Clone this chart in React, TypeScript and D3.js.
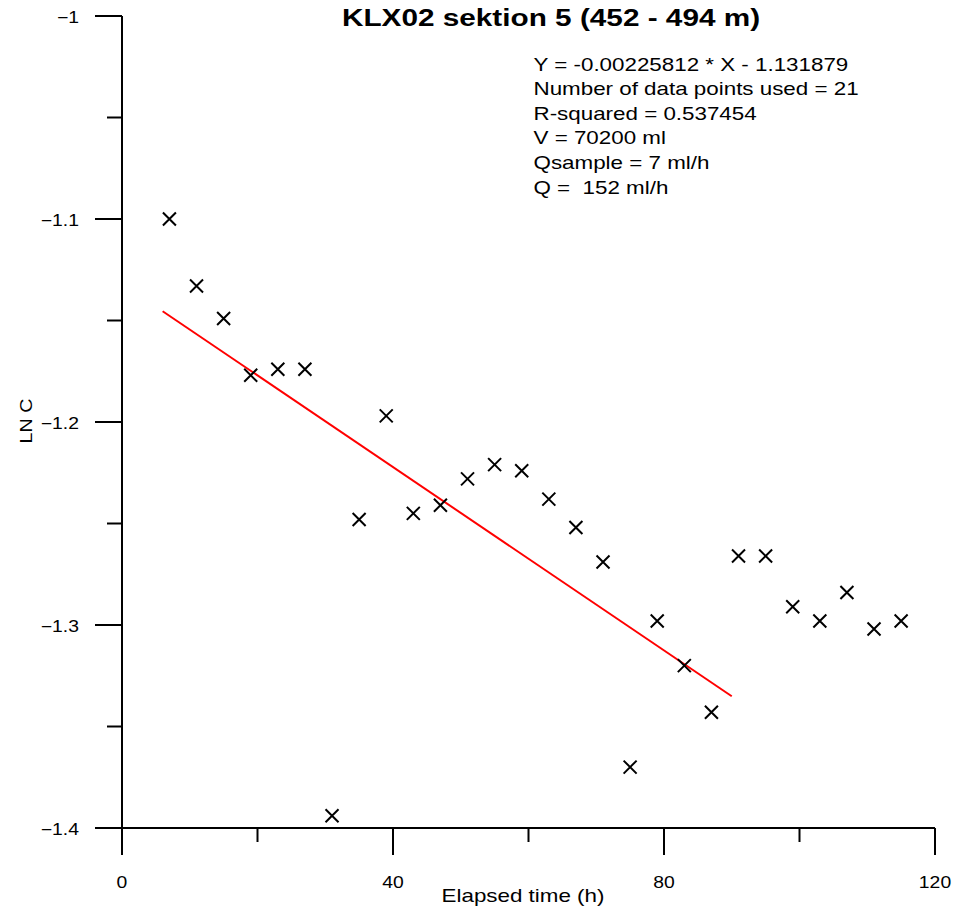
import React from "react";
import * as d3 from "d3";

const elapsedHours = [7, 11, 15, 19, 23, 27, 31, 35, 39, 43, 47, 51, 55, 59, 63, 67, 71, 75, 79, 83, 87, 91, 95, 99, 103, 107, 111, 115];
const lnC = [-1.1, -1.133, -1.149, -1.177, -1.174, -1.174, -1.394, -1.248, -1.197, -1.245, -1.241, -1.228, -1.221, -1.224, -1.238, -1.252, -1.269, -1.37, -1.298, -1.32, -1.343, -1.266, -1.266, -1.291, -1.298, -1.284, -1.302, -1.298];

const fitSlope = -0.00225812;
const fitIntercept = -1.131879;
const fitRange = [6, 90];

const xMajorTicks = [0, 40, 80, 120];
const xMinorTicks = [20, 60, 100];
const yMajorTicks = [-1, -1.1, -1.2, -1.3, -1.4];
const yMinorTicks = [-1.05, -1.15, -1.25, -1.35];

const infoLines = [
  "Y = -0.00225812 * X - 1.131879",
  "Number of data points used = 21",
  "R-squared = 0.537454",
  "V = 70200 ml",
  "Qsample = 7 ml/h",
  "Q =  152 ml/h",
];

const W = 957;
const H = 922;
const FONT = "Liberation Sans, Arial, sans-serif";

// Text drawn with a wide set width (glyphs stretched along the reading direction).
function WideText(props: {
  x: number;
  y: number;
  size: number;
  stretch?: number;
  anchor?: "start" | "middle" | "end";
  rotate?: number;
  bold?: boolean;
  children: React.ReactNode;
}) {
  const { x, y, size, stretch = 1.21, anchor = "start", rotate = 0, bold, children } = props;
  return (
    <g transform={`translate(${x},${y}) rotate(${rotate}) scale(${stretch},1)`}>
      <text
        x={0}
        y={0}
        fontSize={size}
        textAnchor={anchor}
        fontWeight={bold ? "bold" : "normal"}
        style={{ whiteSpace: "pre" }}
      >
        {children}
      </text>
    </g>
  );
}

export default function App() {
  const x = d3.scaleLinear().domain([0, 120]).range([122, 935]);
  const y = d3.scaleLinear().domain([-1, -1.4]).range([16, 828]);

  const fitLine = d3
    .line<number>()
    .x((d) => x(d))
    .y((d) => y(fitSlope * d + fitIntercept))(fitRange);

  const arm = 6.5;

  return (
    <svg
      width={W}
      height={H}
      style={{ position: "absolute", left: 0, top: 0, background: "#fff" }}
      fontFamily={FONT}
    >
      <rect width={W} height={H} fill="#fff" />
      {/* axes */}
      <line x1={x(0)} x2={x(0)} y1={y(-1)} y2={y(-1.4)} stroke="#000" strokeWidth={2} />
      <line x1={x(0)} x2={x(120)} y1={y(-1.4)} y2={y(-1.4)} stroke="#000" strokeWidth={2} />
      {xMajorTicks.map((t) => (
        <g key={"xm" + t}>
          <line x1={x(t)} x2={x(t)} y1={y(-1.4)} y2={y(-1.4) + 27} stroke="#000" strokeWidth={2} />
          <WideText x={x(t)} y={888} size={16} anchor="middle">
            {t}
          </WideText>
        </g>
      ))}
      {xMinorTicks.map((t) => (
        <line key={"xn" + t} x1={x(t)} x2={x(t)} y1={y(-1.4)} y2={y(-1.4) + 14} stroke="#000" strokeWidth={2} />
      ))}
      {yMajorTicks.map((t) => (
        <g key={"ym" + t}>
          <line x1={x(0) - 27} x2={x(0)} y1={y(t)} y2={y(t)} stroke="#000" strokeWidth={2} />
          <WideText x={79} y={y(t) + 6.5} size={16} anchor="end">
            {d3.format("")(t)}
          </WideText>
        </g>
      ))}
      {yMinorTicks.map((t) => (
        <line key={"yn" + t} x1={x(0) - 15} x2={x(0)} y1={y(t)} y2={y(t)} stroke="#000" strokeWidth={2} />
      ))}
      <WideText x={523} y={902} size={18.5} anchor="middle">
        Elapsed time (h)
      </WideText>
      <WideText x={32} y={421} size={16.3} anchor="middle" rotate={-90}>
        LN C
      </WideText>

      {/* regression line */}
      <path d={fitLine ?? ""} fill="none" stroke="#ff0000" strokeWidth={2} />

      {/* observations */}
      {elapsedHours.map((h, i) => {
        const cx = x(h);
        const cy = y(lnC[i]);
        return (
          <path
            key={i}
            d={`M${cx - arm},${cy - arm}L${cx + arm},${cy + arm}M${cx - arm},${cy + arm}L${cx + arm},${cy - arm}`}
            stroke="#000"
            strokeWidth={2}
          />
        );
      })}

      <WideText x={551} y={26} size={24} stretch={1.24} anchor="middle" bold>
        KLX02 sektion 5 (452 - 494 m)
      </WideText>
      {infoLines.map((s, i) => (
        <WideText key={i} x={533.5} y={70.5 + i * 24.6} size={18.5}>
          {s}
        </WideText>
      ))}
    </svg>
  );
}
